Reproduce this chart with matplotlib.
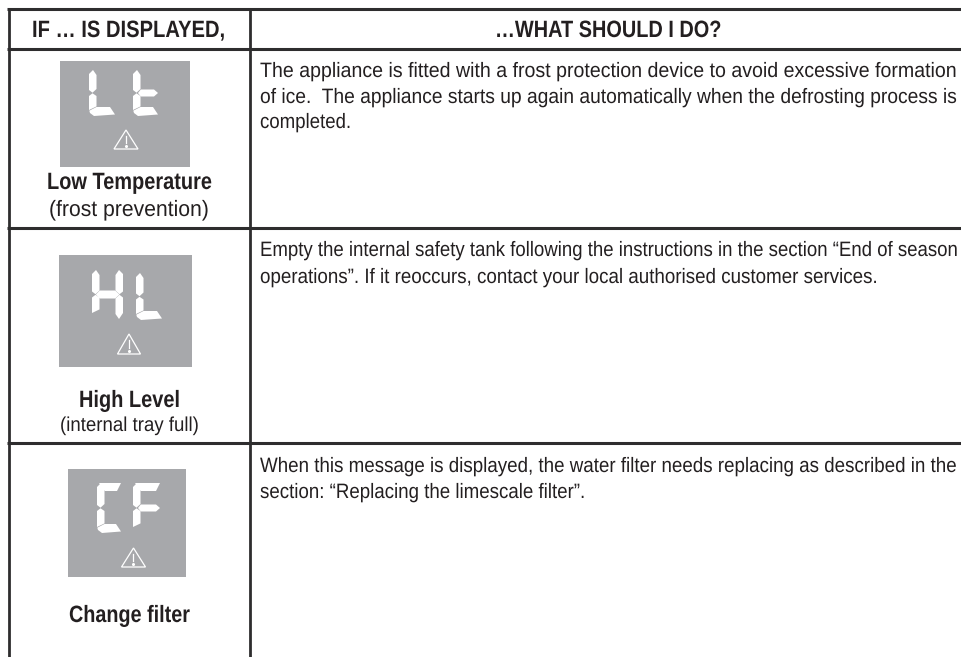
import matplotlib
matplotlib.use('Agg')
import matplotlib.pyplot as plt
from matplotlib.patches import Polygon, Rectangle
from matplotlib.patheffects import AbstractPathEffect
from matplotlib.transforms import Affine2D

W, H = 962, 657
LINE_COL = '#2e2d2e'
PANEL_COL = '#a7a8ab'
TEXT_COL = '#231f20'

### Table content
headers = ['IF … IS DISPLAYED,', '…WHAT SHOULD I DO?']
row_titles = ['Low Temperature', 'High Level', 'Change filter']
row_subs = ['(frost prevention)', '(internal tray full)', '']
row_text = [
  ['The appliance is fitted with a frost protection device to avoid excessive formation',
   'of ice.  The appliance starts up again automatically when the defrosting process is',
   'completed.'],
  ['Empty the internal safety tank following the instructions in the section “End of season',
   'operations”. If it reoccurs, contact your local authorised customer services.'],
  ['When this message is displayed, the water filter needs replacing as described in the',
   'section: “Replacing the limescale filter”.'],
]
# grid
h_lines = [9, 49, 228, 443]
v_lines = [9, 250]
# display panels: x0, x1, y0, y1
panels = [(60, 190, 61, 167), (59, 192, 255, 367), (68, 186, 469, 577)]
# warning triangle: centre x, top y, base y, half width
triangles = [(126, 130, 149, 12), (129, 334, 354, 11.5), (133.5, 548, 567, 12)]
# lit segments per digit: x0, x1, y0, y1, segments
digits = [
  (89, 115, 70, 116, 'ul ll b'),
  (133, 158, 70, 116, 'ul ll b m'),
  (92, 123, 270, 319, 'ul ll ur lr m'),
  (136, 162, 273, 320, 'ul ll b'),
  (97, 121, 483, 533, 'ul ll t b'),
  (133, 160, 483, 533, 'ul ll t m'),
]
# text extents: left, right, baseline
header_pos = [(32, 226, 37), (495, 722, 37)]
title_pos = [(47, 212, 189), (79, 180, 407), (69, 190, 622)]
sub_pos = [(49, 209, 216), (60, 199, 431), None]
text_pos = [
  [(260, 956, 77), (260, 956, 103), (260, 351, 128)],
  [(260, 957, 256), (260, 877, 283)],
  [(260, 956, 472), (260, 585, 498)],
]

### Helpers
class Reshape(AbstractPathEffect):
  # the source font is a condensed face, so rescale the glyphs about the text origin
  def __init__(self, sx, sy, origin):
    super().__init__()
    self.sx = sx
    self.sy = sy
    self.origin = origin

  def draw_path(self, renderer, gc, tpath, affine, rgbFace=None):
    ox, oy = self.origin
    shape = Affine2D().translate(-ox, -oy).scale(self.sx, self.sy).translate(ox, oy)
    renderer.draw_path(gc, tpath, affine + shape, rgbFace)

def fit_text(s, pos, size, weight='normal', height_size=None):
  x0, x1, y = pos
  t = ax.text(x0, y, s, ha='left', va='baseline', family=['Liberation Sans', 'DejaVu Sans'],
              fontsize=size, weight=weight, color=TEXT_COL)
  w = t.get_window_extent(renderer).width
  sy = (height_size or size) / size
  t.set_path_effects([Reshape((x1 - x0) / w, sy, ax.transData.transform((x0, y)))])
  return t

def segment_polys(x0, x1, y0, y1, names):
  t = 7.5
  ym = (y0 + y1) / 2.
  polys = {
    'ul': [(x0, y0+4), (x0+4, y0), (x0+t, y0+5), (x0+t, ym-4), (x0+3.5, ym-.3), (x0, ym-3)],
    'll': [(x0, ym+3), (x0+3.5, ym+.3), (x0+t, ym+3), (x0+t, y1-9.6), (x0, y1-6)],
    'ur': [(x1-t, y0+5), (x1-4, y0), (x1, y0+4), (x1, ym-3), (x1-3.5, ym-.3), (x1-t, ym-4)],
    'lr': [(x1-t, ym+4), (x1-3.5, ym+.3), (x1, ym+3), (x1, y1-6), (x1-4, y1), (x1-t, y1-5)],
    'm': [(x0+t+.3, ym-3.5), (x1-4, ym-3.5), (x1, ym), (x1-4, ym+3.5), (x0+t+.3, ym+3.5), (x0+t-2.5, ym)],
    't': [(x0+2, y0), (x1, y0), (x1-4, y0+8), (x0+t+.3, y0+8)],
    'b': [(x0+.3, y1-5.3), (x0+t, y1-9), (x1-5, y1-9), (x1, y1-1.5), (x0+5, y1), (x0+1, y1-3)],
  }
  if 'ur' in names.split():
    # full width bar between the two uprights
    polys['m'] = [(x0+t+.3, ym-4), (x1-t-.3, ym-4), (x1-3.5, ym), (x1-t-.3, ym+4), (x0+t+.3, ym+4), (x0+3.8, ym)]
  return [polys[n] for n in names.split()]

### Plot
fig = plt.figure(figsize=(W/100., H/100.), dpi=100)
ax = fig.add_axes([0, 0, 1, 1])
ax.set_xlim(0, W)
ax.set_ylim(H, 0)
ax.axis('off')
renderer = fig.canvas.get_renderer()

for y in h_lines:
  ax.plot([v_lines[0]-1.5, W], [y, y], color=LINE_COL, lw=2.2, solid_capstyle='butt')
for x in v_lines:
  ax.plot([x, x], [h_lines[0], H], color=LINE_COL, lw=2.0, solid_capstyle='butt')

for x0, x1, y0, y1 in panels:
  ax.add_patch(Rectangle((x0, y0), x1-x0, y1-y0, fc=PANEL_COL, ec='none'))
for x0, x1, y0, y1, segs in digits:
  for p in segment_polys(x0, x1, y0, y1, segs):
    ax.add_patch(Polygon(p, closed=True, fc='white', ec='none'))
for cx, top, base, hw in triangles:
  ax.add_patch(Polygon([(cx, top), (cx+hw, base), (cx-hw, base)], closed=True, fc='none', ec='white', lw=0.9))
  ax.plot([cx, cx], [top+6, base-6], color='white', lw=0.9)
  ax.plot([cx], [base-3], marker='o', ms=1.2, color='white')

for s, pos in zip(headers, header_pos):
  fit_text(s, pos, 17, 'bold')

for i in range(3):
  fit_text(row_titles[i], title_pos[i], 17, 'bold')
  if row_subs[i]:
    fit_text(row_subs[i], sub_pos[i], 16 if i == 0 else 14.5)
  for line, pos in zip(row_text[i], text_pos[i]):
    fit_text(line, pos, 13.3, height_size=15)

plt.savefig('out.png', dpi=100)
